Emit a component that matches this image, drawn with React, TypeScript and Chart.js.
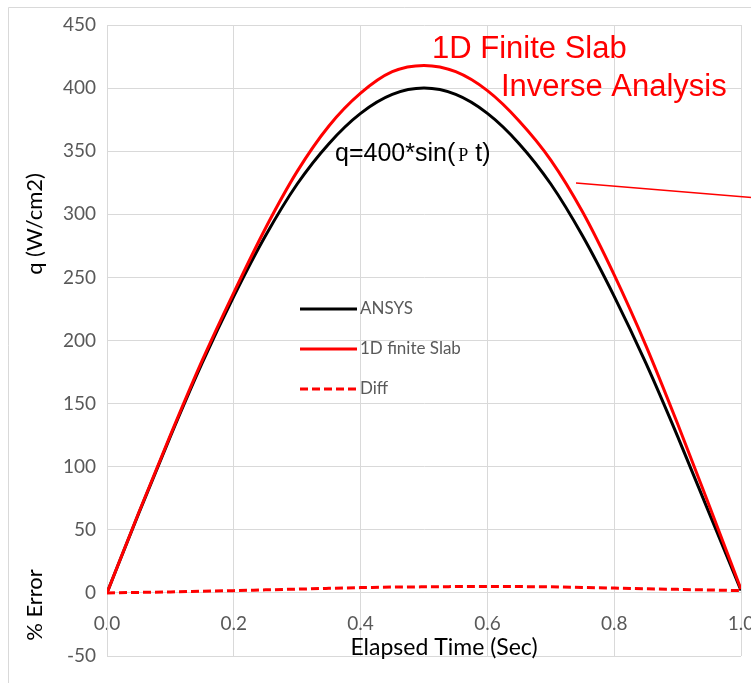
import { useEffect, useRef } from "react";
import { Chart, registerables } from "chart.js";

Chart.register(...registerables);

// ---- data ----
const timeSec = [0, 0.05, 0.1, 0.15, 0.2, 0.25, 0.3, 0.35, 0.4, 0.45, 0.5, 0.55, 0.6, 0.65, 0.7, 0.75, 0.8, 0.85, 0.9, 0.95, 1.0];
const ansysQ = [0, 63, 124, 182, 235, 283, 324, 356, 380, 395, 400, 395, 380, 356, 324, 283, 235, 182, 124, 63, 2];
const slabQ = [0, 63.5, 125, 184, 238, 289, 334, 370, 396, 413, 418, 413, 398, 374, 343, 302, 252, 196, 134, 69, 3];
const diffPct = [0, 0.4, 0.8, 1.3, 1.8, 2.4, 3.0, 3.6, 4.2, 4.6, 4.8, 5.0, 5.1, 5.0, 4.8, 4.3, 3.8, 3.3, 2.8, 2.3, 1.8];
const seriesNames = ["ANSYS", "1D finite Slab", "Diff"];
const xMin = 0;
const xMax = 1.0;
const xStep = 0.2;
const yMin = -50;
const yMax = 450;
const yStep = 50;

const RED = "#ff0000";
const BLACK = "#000000";
const GRID = "#d9d9d9";
const TICK = "#595959";
const CAL = "Lato, 'Open Sans', sans-serif";
const ARIAL = "'Liberation Sans', Arial, sans-serif";

const toPoints = (ys: number[]) => ys.map((y, i) => ({ x: timeSec[i], y }));

const overlayPlugin = {
  id: "overlay",
  beforeDraw(chart: any) {
    const ctx = chart.ctx;
    ctx.save();
    ctx.fillStyle = "#ffffff";
    ctx.fillRect(0, 0, chart.width, chart.height);
    // outer frame of the chart object
    ctx.strokeStyle = GRID;
    ctx.lineWidth = 1;
    ctx.beginPath();
    ctx.moveTo(8.5, chart.height);
    ctx.lineTo(8.5, 7.5);
    ctx.lineTo(chart.width, 7.5);
    ctx.stroke();
    ctx.restore();
  },
  afterDatasetsDraw(chart: any) {
    const ctx = chart.ctx;
    ctx.save();

    // axis titles
    ctx.fillStyle = "#000000";
    ctx.font = `22px ${CAL}`;
    ctx.textAlign = "center";
    ctx.textBaseline = "middle";
    ctx.save();
    ctx.translate(35, 224);
    ctx.rotate(-Math.PI / 2);
    ctx.fillText("q (W/cm2)", 0, 0);
    ctx.restore();
    ctx.save();
    ctx.translate(35, 605);
    ctx.rotate(-Math.PI / 2);
    ctx.fillText("% Error", 0, 0);
    ctx.restore();
    ctx.textBaseline = "alphabetic";
    ctx.font = `23px ${CAL}`;
    ctx.fillText("Elapsed Time (Sec)", 444, 655);

    // legend
    const legendY = [309, 349, 389];
    const legendColors = [BLACK, RED, RED];
    const legendDash = [[], [], [8, 4]];
    ctx.textAlign = "left";
    ctx.textBaseline = "middle";
    ctx.font = `17px ${CAL}`;
    seriesNames.forEach((name, i) => {
      ctx.strokeStyle = legendColors[i];
      ctx.lineWidth = 3;
      ctx.setLineDash(legendDash[i]);
      ctx.beginPath();
      ctx.moveTo(300, legendY[i]);
      ctx.lineTo(357, legendY[i]);
      ctx.stroke();
      ctx.setLineDash([]);
      ctx.fillStyle = TICK;
      ctx.fillText(name, 360, legendY[i]);
    });

    // annotations
    ctx.textBaseline = "alphabetic";
    ctx.fillStyle = RED;
    ctx.font = `31px ${ARIAL}`;
    ctx.fillText("1D Finite Slab", 432, 58);
    ctx.fillText("Inverse Analysis", 501, 96);

    ctx.fillStyle = "#000000";
    ctx.font = `25px ${ARIAL}`;
    const part1 = "q=400*sin(";
    ctx.fillText(part1, 335, 161);
    let x = 335 + ctx.measureText(part1).width + 3;
    ctx.font = `18px 'Liberation Serif', 'DejaVu Serif', serif`;
    ctx.fillText("P", x, 161);
    x += ctx.measureText("P").width;
    ctx.font = `25px ${ARIAL}`;
    ctx.fillText(" t)", x, 161);

    ctx.strokeStyle = RED;
    ctx.lineWidth = 1.5;
    ctx.beginPath();
    ctx.moveTo(576, 183);
    ctx.lineTo(800, 201.5);
    ctx.stroke();

    ctx.restore();
  },
};

export default function App() {
  const canvasRef = useRef<HTMLCanvasElement | null>(null);

  useEffect(() => {
    const canvas = canvasRef.current;
    if (!canvas) return;
    const chart = new Chart(canvas, {
      type: "line",
      data: {
        datasets: [
          {
            label: seriesNames[2],
            data: toPoints(diffPct),
            borderColor: RED,
            borderWidth: 3,
            borderDash: [8, 4],
            pointRadius: 0,
            fill: false,
            cubicInterpolationMode: "monotone",
            order: 0,
          },
          {
            label: seriesNames[1],
            data: toPoints(slabQ),
            borderColor: RED,
            borderWidth: 3,
            pointRadius: 0,
            fill: false,
            cubicInterpolationMode: "monotone",
            order: 1,
          },
          {
            label: seriesNames[0],
            data: toPoints(ansysQ),
            borderColor: BLACK,
            borderWidth: 3,
            pointRadius: 0,
            fill: false,
            cubicInterpolationMode: "monotone",
            order: 2,
          },
        ],
      },
      options: {
        responsive: false,
        animation: false,
        devicePixelRatio: 1,
        layout: { padding: { left: 0, right: 59, top: 25, bottom: 27 } },
        plugins: {
          legend: { display: false },
          tooltip: { enabled: false },
          title: { display: false },
        },
        scales: {
          x: {
            type: "linear",
            min: xMin,
            max: xMax,
            position: { y: 0 },
            ticks: {
              stepSize: xStep,
              callback: (v: any) => Number(v).toFixed(1),
              color: TICK,
              font: { family: CAL, size: 19 },
              padding: 20,
              maxRotation: 0,
              autoSkip: false,
            },
            grid: { color: GRID, lineWidth: 1, drawTicks: false },
            border: { color: GRID, width: 1 },
          },
          y: {
            type: "linear",
            min: yMin,
            max: yMax,
            position: "left",
            ticks: {
              stepSize: yStep,
              color: TICK,
              font: { family: CAL, size: 19 },
              padding: 11,
            },
            grid: { color: GRID, lineWidth: 1, drawTicks: false },
            border: { color: GRID, width: 1 },
            afterFit: (s: any) => {
              s.width = 107;
            },
          },
        },
      } as any,
      plugins: [overlayPlugin],
    });
    return () => chart.destroy();
  }, []);

  return (
    <div
      style={{
        position: "fixed",
        left: 0,
        top: 0,
        width: 751,
        height: 683,
        overflow: "hidden",
        background: "#ffffff",
      }}
    >
      <canvas
        ref={canvasRef}
        width={800}
        height={683}
        style={{ position: "absolute", left: 0, top: 0, width: 800, height: 683 }}
      />
    </div>
  );
}
